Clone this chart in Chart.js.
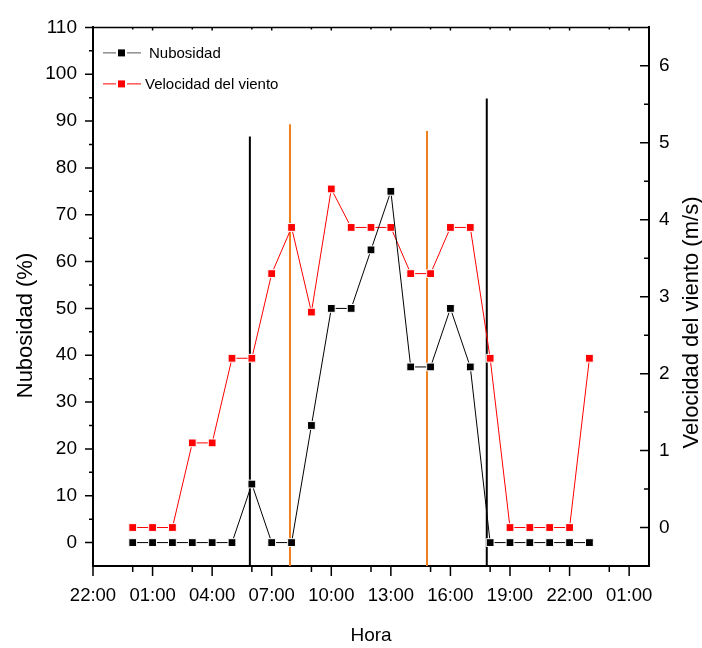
<!DOCTYPE html>
<html>
<head>
<meta charset="utf-8">
<script src="https://cdn.jsdelivr.net/npm/chart.js@4.4.1/dist/chart.umd.min.js"></script>
<style>
  html, body { margin: 0; padding: 0; background: #fff; }
  #wrap { width: 702px; height: 648px; }
</style>
</head>
<body>
<div id="wrap"><canvas id="chart" width="702" height="648"></canvas></div>
<script>
// hours of the day (0 = 00:00)
const hours = [0, 1, 2, 3, 4, 5, 6, 7, 8, 9, 10, 11, 12, 13, 14, 15, 16, 17, 18, 19, 20, 21, 22, 23];
// cloud cover, %
const nubosidad = [0, 0, 0, 0, 0, 0, 12.5, 0, 0, 25, 50, 50, 62.5, 75, 37.5, 37.5, 50, 37.5, 0, 0, 0, 0, 0, 0];
// wind speed, m/s
const viento = [0, 0, 0, 1.1, 1.1, 2.2, 2.2, 3.3, 3.9, 2.8, 4.4, 3.9, 3.9, 3.9, 3.3, 3.3, 3.9, 3.9, 2.2, 0, 0, 0, 0, 2.2];

// vertical marker lines (hour, top value on the % axis)
const lineHours = [5.9, 7.92, 14.82, 17.83];
const lineTops = [86.7, 89.3, 87.9, 94.8];

const xTicks = [-2, 1, 4, 7, 10, 13, 16, 19, 22, 25];
const xMinor = [0, 3, 6, 9, 12, 15, 18, 21, 24];
const yTicks = [0, 10, 20, 30, 40, 50, 60, 70, 80, 90, 100, 110];
const yMinor = [5, 15, 25, 35, 45, 55, 65, 75, 85, 95, 105];
const y2Ticks = [0, 1, 2, 3, 4, 5, 6];
const y2Minor = [0.5, 1.5, 2.5, 3.5, 4.5, 5.5];

const SANS = "'Liberation Sans', Arial, sans-serif";
const ORANGE = '#f07f1f';
const lineColors = ['#000', ORANGE, ORANGE, '#000'];

const fmtHour = v => String(((v % 24) + 24) % 24).padStart(2, '0') + ':00';

const datasets = [
  {
    label: 'Nubosidad',
    data: hours.map((h, i) => ({ x: h, y: nubosidad[i] })),
    yAxisID: 'y',
    borderColor: '#000',
    legendLine: '#555',
    backgroundColor: '#000',
    borderWidth: 1,
    pointStyle: 'rect',
    pointRadius: 5.5,
    pointBackgroundColor: '#000',
    pointBorderColor: '#fff',
    pointBorderWidth: 1
  },
  {
    label: 'Velocidad del viento',
    data: hours.map((h, i) => ({ x: h, y: viento[i] })),
    yAxisID: 'y2',
    borderColor: '#ff0000',
    legendLine: '#ff0000',
    backgroundColor: '#ff0000',
    borderWidth: 1,
    pointStyle: 'rect',
    pointRadius: 5.5,
    pointBackgroundColor: '#ff0000',
    pointBorderColor: '#fff',
    pointBorderWidth: 1
  }
];

lineHours.forEach((h, i) => {
  datasets.push({
    label: 'marca' + i,
    data: [{ x: h, y: -5 }, { x: h, y: lineTops[i] }],
    yAxisID: 'y',
    borderColor: lineColors[i],
    borderWidth: 2,
    pointRadius: 0
  });
});

// minor/major ticks, top frame, y titles, legend
const decor = {
  id: 'decor',
  afterDraw(chart) {
    const ctx = chart.ctx;
    const a = chart.chartArea;
    const sx = chart.scales.x, sy = chart.scales.y, sy2 = chart.scales.y2;
    ctx.save();
    ctx.strokeStyle = '#000';
    ctx.lineWidth = 1.5;
    ctx.beginPath();
    // top frame
    ctx.moveTo(a.left - 1, a.top);
    ctx.lineTo(a.right + 1, a.top);
    const tick = (x1, y1, x2, y2) => { ctx.moveTo(x1, y1); ctx.lineTo(x2, y2); };
    xTicks.forEach(v => {
      const p = sx.getPixelForValue(v);
      tick(p, a.bottom, p, a.bottom + 10);
      tick(p, a.top, p, a.top + 3);
    });
    xMinor.forEach(v => {
      const p = sx.getPixelForValue(v);
      tick(p, a.bottom, p, a.bottom + 6);
      tick(p, a.top, p, a.top + 2);
    });
    yTicks.forEach(v => { const p = sy.getPixelForValue(v); tick(a.left - 8, p, a.left, p); });
    yMinor.forEach(v => { const p = sy.getPixelForValue(v); tick(a.left - 4, p, a.left, p); });
    y2Ticks.forEach(v => { const p = sy2.getPixelForValue(v); tick(a.right - 9, p, a.right, p); });
    y2Minor.forEach(v => { const p = sy2.getPixelForValue(v); tick(a.right - 5, p, a.right, p); });
    ctx.stroke();

    // vertical axis titles (both read bottom to top)
    ctx.fillStyle = '#000';
    ctx.font = '22px ' + SANS;
    ctx.textAlign = 'center';
    ctx.textBaseline = 'middle';
    [['Nubosidad (%)', 25.7, 325.5], ['Velocidad del viento (m/s)', 691.7, 322.5]].forEach(([t, x, y]) => {
      ctx.save();
      ctx.translate(x, y);
      ctx.rotate(-Math.PI / 2);
      ctx.fillText(t, 0, 0);
      ctx.restore();
    });

    // legend
    ctx.font = '15px ' + SANS;
    ctx.textAlign = 'left';
    [0, 1].forEach(i => {
      const ds = chart.data.datasets[i];
      const y = a.top + 25.5 + i * 31;
      const x0 = a.left + 10;
      ctx.strokeStyle = ds.legendLine;
      ctx.lineWidth = 1;
      ctx.beginPath();
      ctx.moveTo(x0, y); ctx.lineTo(x0 + 13, y);
      ctx.moveTo(x0 + 24, y); ctx.lineTo(x0 + 38, y);
      ctx.stroke();
      ctx.fillStyle = ds.pointBackgroundColor;
      ctx.fillRect(x0 + 15, y - 3.5, 7, 7);
      ctx.fillStyle = '#000';
      ctx.fillText(ds.label, x0 + 46 - i * 4, y + 1);
    });
    ctx.restore();
  }
};

new Chart(document.getElementById('chart'), {
  type: 'line',
  data: { datasets },
  plugins: [decor],
  options: {
    responsive: false,
    animation: false,
    events: [],
    layout: { padding: { top: 22, left: 0, right: 0, bottom: 0 } },
    elements: { line: { tension: 0 } },
    plugins: { legend: { display: false }, tooltip: { enabled: false } },
    scales: {
      x: {
        type: 'linear',
        min: -2,
        max: 26,
        afterBuildTicks: s => { s.ticks = xTicks.map(v => ({ value: v })); },
        afterFit: s => { s.height = 82; },
        grid: { drawOnChartArea: false, drawTicks: false },
        border: { color: '#000', width: 2 },
        ticks: {
          callback: v => fmtHour(v),
          color: '#000',
          font: { family: SANS, size: 18.5 },
          padding: 19,
          maxRotation: 0,
          autoSkip: false
        },
        title: {
          display: true,
          text: 'Hora',
          color: '#000',
          font: { family: SANS, size: 19 },
          padding: { top: 0, bottom: 1 }
        }
      },
      y: {
        position: 'left',
        min: -5,
        max: 110,
        afterBuildTicks: s => { s.ticks = yTicks.map(v => ({ value: v })); },
        afterFit: s => { s.width = 93; },
        grid: { drawOnChartArea: false, drawTicks: false },
        border: { color: '#000', width: 2 },
        ticks: { color: '#000', font: { family: SANS, size: 19 }, padding: 16 }
      },
      y2: {
        position: 'right',
        min: -0.5,
        max: 6.5,
        afterBuildTicks: s => { s.ticks = y2Ticks.map(v => ({ value: v })); },
        afterFit: s => { s.width = 53; },
        grid: { drawOnChartArea: false, drawTicks: false },
        border: { color: '#000', width: 2 },
        ticks: { color: '#000', font: { family: SANS, size: 19 }, padding: 10 }
      }
    }
  }
});
</script>
</body>
</html>
